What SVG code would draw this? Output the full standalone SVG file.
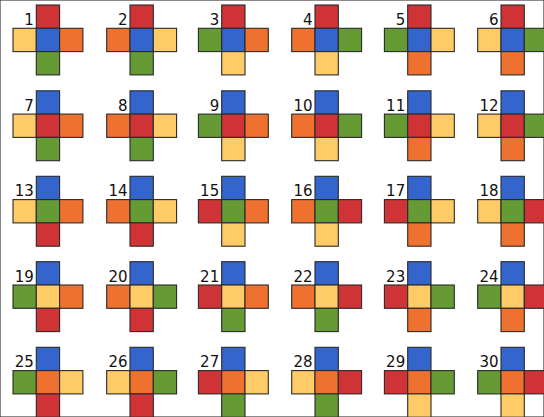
<svg xmlns="http://www.w3.org/2000/svg" width="544" height="417" viewBox="0 0 544 417">
<style>
rect{stroke:#2a2a2a;stroke-width:1.1}
.r{fill:#d03336}.b{fill:#3465cc}.o{fill:#ee7130}.y{fill:#fecb67}.g{fill:#659a35}
text{font-family:"DejaVu Sans",Verdana,sans-serif;font-size:15px;fill:#111;text-anchor:end}
</style>
<rect width="544" height="417" fill="#fff" stroke="none"/>
<defs>
<rect id="sq" width="23.3" height="23.3"/>
</defs>
<g id="n1" transform="translate(36.3,5)"><text x="-2.5" y="20">1</text><rect class="r" x="0" y="0" width="23.3" height="23.3"/><rect class="y" x="-23.3" y="23.3" width="23.3" height="23.3"/><rect class="b" x="0" y="23.3" width="23.3" height="23.3"/><rect class="o" x="23.3" y="23.3" width="23.3" height="23.3"/><rect class="g" x="0" y="46.6" width="23.3" height="23.3"/></g>
<g id="n2" transform="translate(130,5)"><text x="-2.5" y="20">2</text><rect class="r" x="0" y="0" width="23.3" height="23.3"/><rect class="o" x="-23.3" y="23.3" width="23.3" height="23.3"/><rect class="b" x="0" y="23.3" width="23.3" height="23.3"/><rect class="y" x="23.3" y="23.3" width="23.3" height="23.3"/><rect class="g" x="0" y="46.6" width="23.3" height="23.3"/></g>
<g id="n3" transform="translate(221.7,5)"><text x="-2.5" y="20">3</text><rect class="r" x="0" y="0" width="23.3" height="23.3"/><rect class="g" x="-23.3" y="23.3" width="23.3" height="23.3"/><rect class="b" x="0" y="23.3" width="23.3" height="23.3"/><rect class="o" x="23.3" y="23.3" width="23.3" height="23.3"/><rect class="y" x="0" y="46.6" width="23.3" height="23.3"/></g>
<g id="n4" transform="translate(315,5)"><text x="-2.5" y="20">4</text><rect class="r" x="0" y="0" width="23.3" height="23.3"/><rect class="o" x="-23.3" y="23.3" width="23.3" height="23.3"/><rect class="b" x="0" y="23.3" width="23.3" height="23.3"/><rect class="g" x="23.3" y="23.3" width="23.3" height="23.3"/><rect class="y" x="0" y="46.6" width="23.3" height="23.3"/></g>
<g id="n5" transform="translate(407.7,5)"><text x="-2.5" y="20">5</text><rect class="r" x="0" y="0" width="23.3" height="23.3"/><rect class="g" x="-23.3" y="23.3" width="23.3" height="23.3"/><rect class="b" x="0" y="23.3" width="23.3" height="23.3"/><rect class="y" x="23.3" y="23.3" width="23.3" height="23.3"/><rect class="o" x="0" y="46.6" width="23.3" height="23.3"/></g>
<g id="n6" transform="translate(501,5)"><text x="-2.5" y="20">6</text><rect class="r" x="0" y="0" width="23.3" height="23.3"/><rect class="y" x="-23.3" y="23.3" width="23.3" height="23.3"/><rect class="b" x="0" y="23.3" width="23.3" height="23.3"/><rect class="g" x="23.3" y="23.3" width="23.3" height="23.3"/><rect class="o" x="0" y="46.6" width="23.3" height="23.3"/></g>

<g id="n7" transform="translate(36.3,90.8)"><text x="-2.5" y="20">7</text><rect class="b" x="0" y="0" width="23.3" height="23.3"/><rect class="y" x="-23.3" y="23.3" width="23.3" height="23.3"/><rect class="r" x="0" y="23.3" width="23.3" height="23.3"/><rect class="o" x="23.3" y="23.3" width="23.3" height="23.3"/><rect class="g" x="0" y="46.6" width="23.3" height="23.3"/></g>
<g id="n8" transform="translate(130,90.8)"><text x="-2.5" y="20">8</text><rect class="b" x="0" y="0" width="23.3" height="23.3"/><rect class="o" x="-23.3" y="23.3" width="23.3" height="23.3"/><rect class="r" x="0" y="23.3" width="23.3" height="23.3"/><rect class="y" x="23.3" y="23.3" width="23.3" height="23.3"/><rect class="g" x="0" y="46.6" width="23.3" height="23.3"/></g>
<g id="n9" transform="translate(221.7,90.8)"><text x="-2.5" y="20">9</text><rect class="b" x="0" y="0" width="23.3" height="23.3"/><rect class="g" x="-23.3" y="23.3" width="23.3" height="23.3"/><rect class="r" x="0" y="23.3" width="23.3" height="23.3"/><rect class="o" x="23.3" y="23.3" width="23.3" height="23.3"/><rect class="y" x="0" y="46.6" width="23.3" height="23.3"/></g>
<g id="n10" transform="translate(315,90.8)"><text x="-2.5" y="20">10</text><rect class="b" x="0" y="0" width="23.3" height="23.3"/><rect class="o" x="-23.3" y="23.3" width="23.3" height="23.3"/><rect class="r" x="0" y="23.3" width="23.3" height="23.3"/><rect class="g" x="23.3" y="23.3" width="23.3" height="23.3"/><rect class="y" x="0" y="46.6" width="23.3" height="23.3"/></g>
<g id="n11" transform="translate(407.7,90.8)"><text x="-2.5" y="20">11</text><rect class="b" x="0" y="0" width="23.3" height="23.3"/><rect class="g" x="-23.3" y="23.3" width="23.3" height="23.3"/><rect class="r" x="0" y="23.3" width="23.3" height="23.3"/><rect class="y" x="23.3" y="23.3" width="23.3" height="23.3"/><rect class="o" x="0" y="46.6" width="23.3" height="23.3"/></g>
<g id="n12" transform="translate(501,90.8)"><text x="-2.5" y="20">12</text><rect class="b" x="0" y="0" width="23.3" height="23.3"/><rect class="y" x="-23.3" y="23.3" width="23.3" height="23.3"/><rect class="r" x="0" y="23.3" width="23.3" height="23.3"/><rect class="g" x="23.3" y="23.3" width="23.3" height="23.3"/><rect class="o" x="0" y="46.6" width="23.3" height="23.3"/></g>

<g id="n13" transform="translate(36.3,176.3)"><text x="-2.5" y="20">13</text><rect class="b" x="0" y="0" width="23.3" height="23.3"/><rect class="y" x="-23.3" y="23.3" width="23.3" height="23.3"/><rect class="g" x="0" y="23.3" width="23.3" height="23.3"/><rect class="o" x="23.3" y="23.3" width="23.3" height="23.3"/><rect class="r" x="0" y="46.6" width="23.3" height="23.3"/></g>
<g id="n14" transform="translate(130,176.3)"><text x="-2.5" y="20">14</text><rect class="b" x="0" y="0" width="23.3" height="23.3"/><rect class="o" x="-23.3" y="23.3" width="23.3" height="23.3"/><rect class="g" x="0" y="23.3" width="23.3" height="23.3"/><rect class="y" x="23.3" y="23.3" width="23.3" height="23.3"/><rect class="r" x="0" y="46.6" width="23.3" height="23.3"/></g>
<g id="n15" transform="translate(221.7,176.3)"><text x="-2.5" y="20">15</text><rect class="b" x="0" y="0" width="23.3" height="23.3"/><rect class="r" x="-23.3" y="23.3" width="23.3" height="23.3"/><rect class="g" x="0" y="23.3" width="23.3" height="23.3"/><rect class="o" x="23.3" y="23.3" width="23.3" height="23.3"/><rect class="y" x="0" y="46.6" width="23.3" height="23.3"/></g>
<g id="n16" transform="translate(315,176.3)"><text x="-2.5" y="20">16</text><rect class="b" x="0" y="0" width="23.3" height="23.3"/><rect class="o" x="-23.3" y="23.3" width="23.3" height="23.3"/><rect class="g" x="0" y="23.3" width="23.3" height="23.3"/><rect class="r" x="23.3" y="23.3" width="23.3" height="23.3"/><rect class="y" x="0" y="46.6" width="23.3" height="23.3"/></g>
<g id="n17" transform="translate(407.7,176.3)"><text x="-2.5" y="20">17</text><rect class="b" x="0" y="0" width="23.3" height="23.3"/><rect class="r" x="-23.3" y="23.3" width="23.3" height="23.3"/><rect class="g" x="0" y="23.3" width="23.3" height="23.3"/><rect class="y" x="23.3" y="23.3" width="23.3" height="23.3"/><rect class="o" x="0" y="46.6" width="23.3" height="23.3"/></g>
<g id="n18" transform="translate(501,176.3)"><text x="-2.5" y="20">18</text><rect class="b" x="0" y="0" width="23.3" height="23.3"/><rect class="y" x="-23.3" y="23.3" width="23.3" height="23.3"/><rect class="g" x="0" y="23.3" width="23.3" height="23.3"/><rect class="r" x="23.3" y="23.3" width="23.3" height="23.3"/><rect class="o" x="0" y="46.6" width="23.3" height="23.3"/></g>

<g id="n19" transform="translate(36.3,261.7)"><text x="-2.5" y="20">19</text><rect class="b" x="0" y="0" width="23.3" height="23.3"/><rect class="g" x="-23.3" y="23.3" width="23.3" height="23.3"/><rect class="y" x="0" y="23.3" width="23.3" height="23.3"/><rect class="o" x="23.3" y="23.3" width="23.3" height="23.3"/><rect class="r" x="0" y="46.6" width="23.3" height="23.3"/></g>
<g id="n20" transform="translate(130,261.7)"><text x="-2.5" y="20">20</text><rect class="b" x="0" y="0" width="23.3" height="23.3"/><rect class="o" x="-23.3" y="23.3" width="23.3" height="23.3"/><rect class="y" x="0" y="23.3" width="23.3" height="23.3"/><rect class="g" x="23.3" y="23.3" width="23.3" height="23.3"/><rect class="r" x="0" y="46.6" width="23.3" height="23.3"/></g>
<g id="n21" transform="translate(221.7,261.7)"><text x="-2.5" y="20">21</text><rect class="b" x="0" y="0" width="23.3" height="23.3"/><rect class="r" x="-23.3" y="23.3" width="23.3" height="23.3"/><rect class="y" x="0" y="23.3" width="23.3" height="23.3"/><rect class="o" x="23.3" y="23.3" width="23.3" height="23.3"/><rect class="g" x="0" y="46.6" width="23.3" height="23.3"/></g>
<g id="n22" transform="translate(315,261.7)"><text x="-2.5" y="20">22</text><rect class="b" x="0" y="0" width="23.3" height="23.3"/><rect class="o" x="-23.3" y="23.3" width="23.3" height="23.3"/><rect class="y" x="0" y="23.3" width="23.3" height="23.3"/><rect class="r" x="23.3" y="23.3" width="23.3" height="23.3"/><rect class="g" x="0" y="46.6" width="23.3" height="23.3"/></g>
<g id="n23" transform="translate(407.7,261.7)"><text x="-2.5" y="20">23</text><rect class="b" x="0" y="0" width="23.3" height="23.3"/><rect class="r" x="-23.3" y="23.3" width="23.3" height="23.3"/><rect class="y" x="0" y="23.3" width="23.3" height="23.3"/><rect class="g" x="23.3" y="23.3" width="23.3" height="23.3"/><rect class="o" x="0" y="46.6" width="23.3" height="23.3"/></g>
<g id="n24" transform="translate(501,261.7)"><text x="-2.5" y="20">24</text><rect class="b" x="0" y="0" width="23.3" height="23.3"/><rect class="g" x="-23.3" y="23.3" width="23.3" height="23.3"/><rect class="y" x="0" y="23.3" width="23.3" height="23.3"/><rect class="r" x="23.3" y="23.3" width="23.3" height="23.3"/><rect class="o" x="0" y="46.6" width="23.3" height="23.3"/></g>

<g id="n25" transform="translate(36.3,347.3)"><text x="-2.5" y="20">25</text><rect class="b" x="0" y="0" width="23.3" height="23.3"/><rect class="g" x="-23.3" y="23.3" width="23.3" height="23.3"/><rect class="o" x="0" y="23.3" width="23.3" height="23.3"/><rect class="y" x="23.3" y="23.3" width="23.3" height="23.3"/><rect class="r" x="0" y="46.6" width="23.3" height="23.3"/></g>
<g id="n26" transform="translate(130,347.3)"><text x="-2.5" y="20">26</text><rect class="b" x="0" y="0" width="23.3" height="23.3"/><rect class="y" x="-23.3" y="23.3" width="23.3" height="23.3"/><rect class="o" x="0" y="23.3" width="23.3" height="23.3"/><rect class="g" x="23.3" y="23.3" width="23.3" height="23.3"/><rect class="r" x="0" y="46.6" width="23.3" height="23.3"/></g>
<g id="n27" transform="translate(221.7,347.3)"><text x="-2.5" y="20">27</text><rect class="b" x="0" y="0" width="23.3" height="23.3"/><rect class="r" x="-23.3" y="23.3" width="23.3" height="23.3"/><rect class="o" x="0" y="23.3" width="23.3" height="23.3"/><rect class="y" x="23.3" y="23.3" width="23.3" height="23.3"/><rect class="g" x="0" y="46.6" width="23.3" height="23.3"/></g>
<g id="n28" transform="translate(315,347.3)"><text x="-2.5" y="20">28</text><rect class="b" x="0" y="0" width="23.3" height="23.3"/><rect class="y" x="-23.3" y="23.3" width="23.3" height="23.3"/><rect class="o" x="0" y="23.3" width="23.3" height="23.3"/><rect class="r" x="23.3" y="23.3" width="23.3" height="23.3"/><rect class="g" x="0" y="46.6" width="23.3" height="23.3"/></g>
<g id="n29" transform="translate(407.7,347.3)"><text x="-2.5" y="20">29</text><rect class="b" x="0" y="0" width="23.3" height="23.3"/><rect class="r" x="-23.3" y="23.3" width="23.3" height="23.3"/><rect class="o" x="0" y="23.3" width="23.3" height="23.3"/><rect class="g" x="23.3" y="23.3" width="23.3" height="23.3"/><rect class="y" x="0" y="46.6" width="23.3" height="23.3"/></g>
<g id="n30" transform="translate(501,347.3)"><text x="-2.5" y="20">30</text><rect class="b" x="0" y="0" width="23.3" height="23.3"/><rect class="g" x="-23.3" y="23.3" width="23.3" height="23.3"/><rect class="o" x="0" y="23.3" width="23.3" height="23.3"/><rect class="r" x="23.3" y="23.3" width="23.3" height="23.3"/><rect class="y" x="0" y="46.6" width="23.3" height="23.3"/></g>
</svg>
